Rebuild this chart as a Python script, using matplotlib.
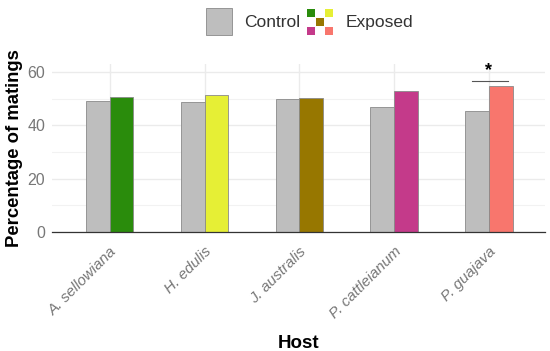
import numpy as np
import matplotlib
matplotlib.use("Agg")
from matplotlib import pyplot as plt
from matplotlib.patches import Rectangle
from matplotlib.legend_handler import HandlerBase

hosts = ["A. sellowiana", "H. edulis", "J. australis", "P. cattleianum", "P. guajava"]
control = [49.2, 48.8, 49.9, 47.0, 45.4]
exposed = [50.7, 51.2, 50.1, 53.0, 54.7]
exposed_colors = ["#2a8c0c", "#e6ef35", "#977700", "#c43a8a", "#f8766d"]
control_color = "#bebebe"

plt.rcParams['font.family'] = ['Liberation Sans', 'DejaVu Sans']


class CheckerHandler(HandlerBase):
    # 3x3 checker key: corners + centre carry the host colours
    def create_artists(self, legend, orig, xd, yd, w, h, fontsize, trans):
        s = h / 3.0
        x0 = -xd + (w - 3 * s) / 2
        y0 = -yd
        cells = [(0, 2), (2, 2), (1, 1), (0, 0), (2, 0)]
        arts = []
        for (cx, cy), c in zip(cells, exposed_colors):
            arts.append(Rectangle((x0 + cx * s, y0 + cy * s), s * 0.92, s * 0.92,
                                  facecolor=c, edgecolor="none", transform=trans))
        return arts


class BoxHandler(HandlerBase):
    def create_artists(self, legend, orig, xd, yd, w, h, fontsize, trans):
        x0 = -xd + (w - h) / 2
        r = Rectangle((x0, -yd), h, h, facecolor=control_color, edgecolor="#8a8a8a",
                      linewidth=0.6, transform=trans)
        return [r]


fig = plt.figure(figsize=(5.5, 3.51), dpi=100)
ax = fig.add_axes([0.0945, 0.339, 0.896, 0.479])

x = np.arange(len(hosts))
w = 0.25
ax.bar(x - w / 2, control, w, color=control_color, edgecolor="#8a8a8a", linewidth=0.6, zorder=3)
ax.bar(x + w / 2, exposed, w, color=exposed_colors, edgecolor="#8a8a8a", linewidth=0.6, zorder=3)

# significance mark on P. guajava
ax.plot([4 - 0.18, 4 + 0.2], [56.7, 56.7], color="#555555", lw=0.8, zorder=3)
ax.text(4, 57.3, "*", ha="center", va="bottom", fontsize=13, fontweight="bold")

ax.set_xlim(-0.61, 4.59)
ax.set_ylim(0, 63)
ax.set_yticks([0, 20, 40, 60])
ax.set_yticks([10, 30, 50], minor=True)
ax.set_xticks(x)
ax.set_xticklabels(hosts, rotation=45, ha="right", va="top", rotation_mode="anchor",
                   fontsize=11, color="#777777", style="italic")
ax.tick_params(axis="y", labelsize=11.5, labelcolor="#777777", length=0, pad=5)
ax.tick_params(axis="y", which="minor", length=0)
ax.tick_params(axis="x", length=0, pad=9)
ax.grid(True, which="major", color="#ebebeb", lw=1.0, zorder=0)
ax.grid(True, which="minor", axis="y", color="#f2f2f2", lw=0.8, zorder=0)
for sp in ["top", "right", "left"]:
    ax.spines[sp].set_visible(False)
ax.spines["bottom"].set_color("#333333")
ax.spines["bottom"].set_linewidth(0.9)
ax.spines["bottom"].set_zorder(4)

ax.set_xlabel("Host", fontsize=13.5, fontweight="bold", labelpad=10)
ax.set_ylabel("Percentage of matings", fontsize=13.3, fontweight="bold", labelpad=3)

h_ctrl = Rectangle((0, 0), 1, 1)
h_exp = Rectangle((0, 0), 1, 1)
fig.legend([h_ctrl, h_exp], ["Control", "Exposed"], loc="upper center",
           bbox_to_anchor=(0.558, 1.022), ncol=2, frameon=False, fontsize=12.5,
           handler_map={h_exp: CheckerHandler(), h_ctrl: BoxHandler()},
           handlelength=2.1, handleheight=2.0,
           columnspacing=0.1, handletextpad=0.4, labelcolor="#333333")

fig.savefig("out.png", dpi=100)
